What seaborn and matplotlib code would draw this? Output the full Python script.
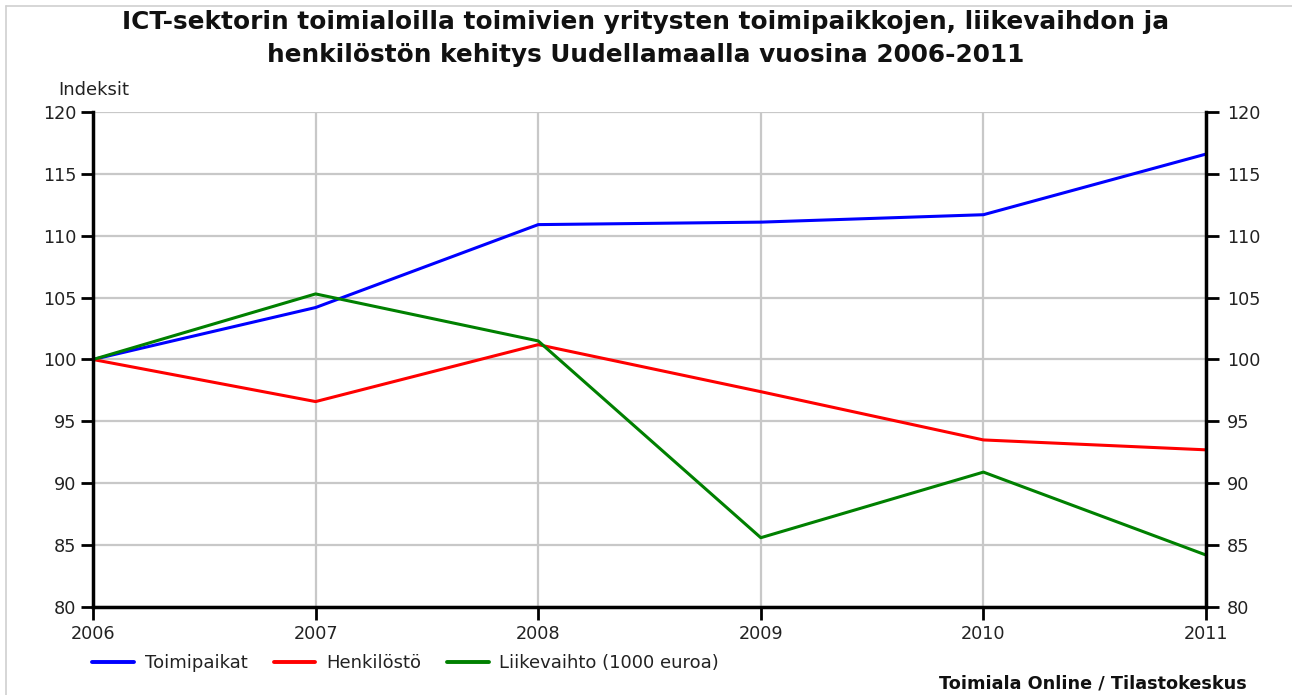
import matplotlib
matplotlib.use("Agg")
import matplotlib.pyplot as plt
from matplotlib.lines import Line2D
import seaborn as sns
import pandas as pd

years = [2006, 2007, 2008, 2009, 2010, 2011]
toimipaikat = [100.0, 104.2, 110.9, 111.1, 111.7, 116.6]
henkilosto = [100.0, 96.6, 101.2, 97.4, 93.5, 92.7]
liikevaihto = [100.0, 105.3, 101.5, 85.6, 90.9, 84.2]
series_names = ["Toimipaikat", "Henkilöstö", "Liikevaihto (1000 euroa)"]
y_ticks = [80, 85, 90, 95, 100, 105, 110, 115, 120]

df = pd.DataFrame({
    "Vuosi": years * 3,
    "Indeksi": toimipaikat + henkilosto + liikevaihto,
    "Sarja": [series_names[0]] * 6 + [series_names[1]] * 6 + [series_names[2]] * 6,
})

sns.set_style("white")
plt.rcParams["font.family"] = ["DejaVu Sans"]

fig = plt.figure(figsize=(12.92, 6.95), dpi=100)
ax = fig.add_axes([93 / 1292, 1 - 607 / 695, (1206 - 93) / 1292, (607 - 112) / 695])

palette = {series_names[0]: "#0000ff", series_names[1]: "#ff0000", series_names[2]: "#008000"}
sns.lineplot(data=df, x="Vuosi", y="Indeksi", hue="Sarja", palette=palette,
             linewidth=2.2, ax=ax, legend=False, zorder=3)

ax.set_xlim(2006, 2011)
ax.set_ylim(80, 120)
ax.set_xticks(years)
ax.set_yticks(y_ticks)
ax.set_xlabel("")
ax.set_ylabel("")
ax.grid(True, color="#c8c8c8", linewidth=1.6, zorder=0)

ax.spines["top"].set_visible(False)
for s in ["left", "right", "bottom"]:
    ax.spines[s].set_visible(True)
    ax.spines[s].set_color("black")
    ax.spines[s].set_linewidth(2.5)
    ax.spines[s].set_zorder(4)

ax.tick_params(axis="both", which="both", direction="out", length=9, width=2,
               color="black", labelsize=12.7, labelcolor="#222222")
ax.tick_params(axis="y", left=True, right=False, labelleft=True, labelright=False, pad=3)
ax.tick_params(axis="x", bottom=True, pad=4)

ax2 = ax.twinx()
ax2.set_ylim(80, 120)
ax2.set_yticks(y_ticks)
for s in ax2.spines.values():
    s.set_visible(False)
ax2.tick_params(axis="y", direction="out", length=9, width=2, color="black",
                labelsize=12.7, labelcolor="#222222", pad=6, right=True, labelright=True)
ax2.grid(False)

fig.text(58 / 1292, 1 - 90 / 695, "Indeksit", fontsize=13,
         color="#222222", ha="left", va="center")

fig.text(0.5, 1 - 22 / 695, "ICT-sektorin toimialoilla toimivien yritysten toimipaikkojen, liikevaihdon ja",
         ha="center", va="center", fontsize=17.8, fontweight="bold", color="#111111")
fig.text(0.5, 1 - 55 / 695, "henkilöstön kehitys Uudellamaalla vuosina 2006-2011",
         ha="center", va="center", fontsize=17.8, fontweight="bold", color="#111111")

handles = [Line2D([0], [0], color=palette[n], linewidth=2.8) for n in series_names]
fig.legend(handles, series_names, loc="center left", bbox_to_anchor=(85 / 1292, 1 - 663 / 695),
           ncol=3, frameon=False, fontsize=13, handlelength=2.3, columnspacing=1.45,
           handletextpad=0.6, labelcolor="#222222", borderaxespad=0)

fig.text(1247 / 1292, 1 - 684 / 695, "Toimiala Online / Tilastokeskus", ha="right", va="center",
         fontsize=12.7, fontweight="bold", color="#111111")

fig.add_artist(Line2D([6 / 1292, 6 / 1292], [0, 1 - 6 / 695], transform=fig.transFigure,
                      color="#d0d0d0", linewidth=1.2))
fig.add_artist(Line2D([6 / 1292, 1], [1 - 6 / 695, 1 - 6 / 695], transform=fig.transFigure,
                      color="#d0d0d0", linewidth=1.2))

fig.savefig("out.png", dpi=100)
